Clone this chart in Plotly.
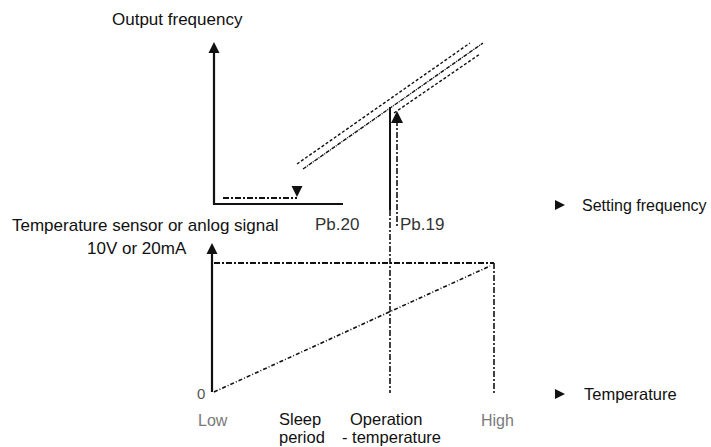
import plotly.graph_objects as go

W, H = 711, 447
FONT = "Liberation Sans, Arial, Helvetica, sans-serif"
INK = "#111111"

# ---- upper diagram: output frequency against setting frequency ----
out_axis_x = [214, 214, 343]
out_axis_y = [52, 204, 204]
sleep_level_x = [223, 297]
sleep_level_y = [198, 198]
ramp_a_x = [297, 470]
ramp_a_y = [164, 43]
ramp_b_x = [303, 483]
ramp_b_y = [169, 43]
ramp_c_x = [394, 480]
ramp_c_y = [113, 54]
op_solid_x = [390, 390]
op_solid_y = [107, 210]
op_guide_x = [390, 390]
op_guide_y = [210, 393]
pb19_shaft_x = [397, 397]
pb19_shaft_y = [120, 226]

# ---- lower diagram: sensor signal against temperature ----
sig_axis_x = [212, 212]
sig_axis_y = [250, 392]
full_scale_x = [214, 494]
full_scale_y = [263, 263]
high_guide_x = [494, 494]
high_guide_y = [263, 393]
sensor_ramp_x = [214, 490]
sensor_ramp_y = [392, 266]

# arrow heads (tip positions)
up_tips_x = [214, 212]
up_tips_y = [42, 243]
pb19_tip_x = [397]
pb19_tip_y = [111]
down_tips_x = [297]
down_tips_y = [197]
right_tips_x = [565, 565]
right_tips_y = [205, 394]

DASHDOT = "6px,2px,2px,2px"

fig = go.Figure()


def seg(x, y, width=1.6, dash="solid", color=INK):
    fig.add_trace(go.Scatter(x=x, y=y, mode="lines",
                             line=dict(color=color, width=width, dash=dash),
                             hoverinfo="skip", showlegend=False))


seg(out_axis_x, out_axis_y, width=2.2)
seg(sleep_level_x, sleep_level_y, width=1.8, dash=DASHDOT)
seg(ramp_a_x, ramp_a_y, width=1.4, dash="3px,2px")
seg(ramp_b_x, ramp_b_y, width=1.4, dash="4px,1px,1px,1px")
seg(ramp_c_x, ramp_c_y, width=1.4, dash="3px,2px")
seg(op_solid_x, op_solid_y, width=2.0)
seg(op_guide_x, op_guide_y, width=1.6, dash=DASHDOT)
seg(pb19_shaft_x, pb19_shaft_y, width=1.6, dash=DASHDOT)

seg(sig_axis_x, sig_axis_y, width=2.2)
seg(full_scale_x, full_scale_y, width=1.8, dash=DASHDOT)
seg(high_guide_x, high_guide_y, width=1.6, dash=DASHDOT)
seg(sensor_ramp_x, sensor_ramp_y, width=1.6, dash="4px,2px,1px,2px")


def heads(x, y, symbol, size=11):
    fig.add_trace(go.Scatter(x=x, y=y, mode="markers",
                             marker=dict(symbol=symbol, size=size, color=INK,
                                         line=dict(width=0)),
                             hoverinfo="skip", showlegend=False))


heads(up_tips_x, up_tips_y, "arrow-up")
heads(pb19_tip_x, pb19_tip_y, "arrow-up", size=12)
heads(down_tips_x, down_tips_y, "arrow-down")
heads(right_tips_x, right_tips_y, "arrow-right", size=10)


def label(text, x, y, anchor="left", size=17, color=INK):
    fig.add_annotation(x=x, y=y, text=text, showarrow=False, xanchor=anchor,
                       yanchor="middle",
                       font=dict(family=FONT, size=size, color=color))


label("Output frequency", 110, 19)
label("Temperature sensor or anlog signal", 10, 225)
label("10V or 20mA", 137, 248, anchor="center")
label("Pb.20", 313, 224, color="#333333")
label("Pb.19", 398, 224, color="#333333")
label("Setting frequency", 580, 205, size=16)
label("0", 201, 393, anchor="center", size=15, color="#555555")
label("Low", 213, 420, anchor="center", size=16, color="#7a7a7a")
label("Sleep", 277, 419, size=16.5)
label("period", 277, 437, size=16.5)
label("Operation", 386, 419, anchor="center", size=16.5)
label("- temperature", 391, 437, anchor="center", size=16.5)
label("High", 497, 420, anchor="center", size=16, color="#7a7a7a")
label("Temperature", 582, 394, size=16.5)

fig.update_layout(
    width=W, height=H,
    margin=dict(l=0, r=0, t=0, b=0),
    paper_bgcolor="white", plot_bgcolor="white",
    xaxis=dict(range=[0, W], visible=False, fixedrange=True),
    yaxis=dict(range=[H, 0], visible=False, fixedrange=True),
)

fig.write_html("out.html")
